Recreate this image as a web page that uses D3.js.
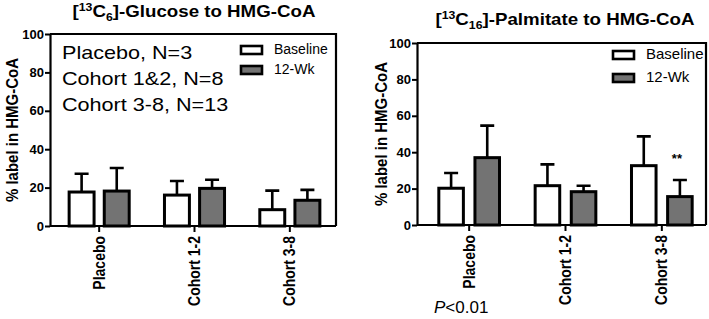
<!DOCTYPE html>
<html>
<head>
<meta charset="utf-8">
<script src="https://cdn.jsdelivr.net/npm/d3@7"></script>
<style>
  body { margin: 0; background: #fff; }
  svg { display: block; font-family: "Liberation Sans", Arial, sans-serif; }
</style>
</head>
<body>
<svg width="709" height="319"></svg>
<script>
"use strict"

const groups = ["Placebo", "Cohort 1-2", "Cohort 3-8"]
const seriesNames = ["Baseline", "12-Wk"]
const seriesFill = ["#ffffff", "#737373"]
const yTicks = [0, 20, 40, 60, 80, 100]

// glucose panel: mean and top of error bar
const glucoseBaseline = [17.7, 16.1, 8.5]
const glucoseBaselineErr = [27.2, 23.4, 18.4]
const glucoseWeek12 = [18.2, 19.6, 13.4]
const glucoseWeek12Err = [30.2, 24.1, 18.8]

// palmitate panel
const palmBaseline = [20.2, 21.6, 32.6]
const palmBaselineErr = [28.6, 33.3, 48.7]
const palmWeek12 = [37.0, 18.3, 15.6]
const palmWeek12Err = [54.6, 21.6, 24.7]

const cohortNotes = ["Placebo, N=3", "Cohort 1&2, N=8", "Cohort 3-8, N=13"]

const svg = d3.select("svg")

function buildRows(base, baseErr, wk, wkErr) {
    return groups.map((g, i) => ({
        group: g,
        bars: [
            {s: seriesNames[0], v: base[i], e: baseErr[i]},
            {s: seriesNames[1], v: wk[i], e: wkErr[i]}
        ]
    }))
}

function drawPanel(p) {
    const y = d3.scaleLinear().domain([0, 100]).range([p.bottom, p.top])
    const x = d3.scaleBand().domain(groups).range([p.left + p.shift, p.right + p.shift]).paddingInner(0.37).paddingOuter(0.185)
    const xi = d3.scaleBand().domain(seriesNames).range([0, x.bandwidth()]).paddingInner(p.gap)

    const g = svg.append("g")

    // frame top and right
    g.append("path")
        .attr("d", "M" + p.left + "," + p.top + "H" + p.right + "V" + p.bottom)
        .attr("fill", "none").attr("stroke", "#000").attr("stroke-width", 2.2)

    const rows = buildRows(p.base, p.baseErr, p.wk, p.wkErr)
    const grp = g.selectAll(".grp").data(rows).enter().append("g")
        .attr("transform", d => "translate(" + x(d.group) + ",0)")

    // error bars (upper only)
    grp.selectAll(".err").data(d => d.bars).enter().append("path")
        .attr("d", d => {
            const cx = xi(d.s) + xi.bandwidth() / 2
            return "M" + cx + "," + y(d.v) + "V" + y(d.e) + "M" + (cx - 7) + "," + y(d.e) + "H" + (cx + 7)
        })
        .attr("stroke", "#000").attr("stroke-width", 2.6).attr("fill", "none")

    grp.selectAll("rect").data(d => d.bars).enter().append("rect")
        .attr("x", d => xi(d.s))
        .attr("y", d => y(d.v))
        .attr("width", xi.bandwidth())
        .attr("height", d => y(0) - y(d.v))
        .attr("fill", (d, i) => seriesFill[i])
        .attr("stroke", "#000").attr("stroke-width", 3)

    // y axis
    const ya = g.append("g")
        .attr("transform", "translate(" + p.left + ",0)")
        .call(d3.axisLeft(y).tickValues(yTicks).tickSize(5).tickSizeOuter(0))
    ya.select(".domain").attr("stroke-width", 2.2)
    ya.selectAll(".tick line").attr("stroke-width", 2)
    ya.selectAll("text").attr("font-size", 13).attr("font-weight", "bold").attr("dx", 2).attr("fill", "#000")

    // x axis
    const xa = g.append("g")
        .attr("transform", "translate(0," + p.bottom + ")")
        .call(d3.axisBottom(x).tickSize(6).tickSizeOuter(0))
    xa.select(".domain").attr("d", "M" + p.left + ",0H" + p.right).attr("stroke-width", 2.2)
    xa.selectAll(".tick line").attr("stroke-width", 2)
    xa.selectAll("text")
        .attr("font-size", 14).attr("font-weight", "bold").attr("fill", "#000")
        .attr("transform", "rotate(-90) scale(1,1.15)")
        .attr("text-anchor", "end")
        .attr("x", -10).attr("y", 0).attr("dy", "0.35em")

    // y label
    g.append("text")
        .attr("transform", "translate(" + p.ylabX + "," + ((p.top + p.bottom) / 2) + ") rotate(-90) scale(1,1.15)")
        .attr("text-anchor", "middle")
        .attr("font-size", 15).attr("font-weight", "bold")
        .text("% label in HMG-CoA")

    // title (source image is a little stretched horizontally)
    const t = g.append("text")
        .attr("transform", "translate(" + p.titleX + "," + p.titleY + ") scale(1.17,1)")
        .attr("text-anchor", "middle")
        .attr("font-size", 16).attr("font-weight", "bold")
    t.append("tspan").text("[")
    t.append("tspan").attr("font-size", 10.5).attr("dy", -6).text("13")
    t.append("tspan").attr("dy", 6).text("C")
    t.append("tspan").attr("font-size", 10.5).attr("dy", 4).text(p.sub)
    t.append("tspan").attr("dy", -4).text("]-" + p.titleRest)

    // legend
    seriesNames.forEach((s, i) => {
        g.append("rect")
            .attr("x", p.legX).attr("y", p.legY + i * p.legStep)
            .attr("width", 21).attr("height", 8)
            .attr("fill", seriesFill[i]).attr("stroke", "#000").attr("stroke-width", 2.6)
        g.append("text")
            .attr("x", p.legX + 33).attr("y", p.legY + i * p.legStep + 8)
            .attr("font-size", p.legFont)
            .text(s)
    })

    return {x, xi, y, g}
}

drawPanel({
    left: 50, right: 336, top: 34, bottom: 226, shift: 1.5, gap: 0.29,
    base: glucoseBaseline, baseErr: glucoseBaselineErr, wk: glucoseWeek12, wkErr: glucoseWeek12Err,
    ylabX: 18, titleX: 194, titleY: 17, sub: "6", titleRest: "Glucose to HMG-CoA",
    legX: 241, legY: 46, legStep: 20, legFont: 14
})

cohortNotes.forEach((n, i) => {
    svg.append("text")
        .attr("transform", "translate(62," + (59 + i * 26) + ") scale(1.2,1)")
        .attr("font-size", 18)
        .text(n)
})

const right = drawPanel({
    left: 417, right: 706, top: 43, bottom: 225, shift: 4, gap: 0.32,
    base: palmBaseline, baseErr: palmBaselineErr, wk: palmWeek12, wkErr: palmWeek12Err,
    ylabX: 387, titleX: 565, titleY: 25, sub: "16", titleRest: "Palmitate to HMG-CoA",
    legX: 613, legY: 51, legStep: 23, legFont: 15
})

// significance marker over cohort 3-8 12-Wk bar
right.g.append("text")
    .attr("x", right.x("Cohort 3-8") + right.xi("12-Wk") + right.xi.bandwidth() / 2 - 3)
    .attr("y", right.y(34))
    .attr("text-anchor", "middle")
    .attr("font-size", 13).attr("font-weight", "bold")
    .text("**")

const pt = svg.append("text").attr("x", 434).attr("y", 313).attr("font-size", 17)
pt.append("tspan").attr("font-style", "italic").text("P")
pt.append("tspan").text("<0.01")
</script>
</body>
</html>
